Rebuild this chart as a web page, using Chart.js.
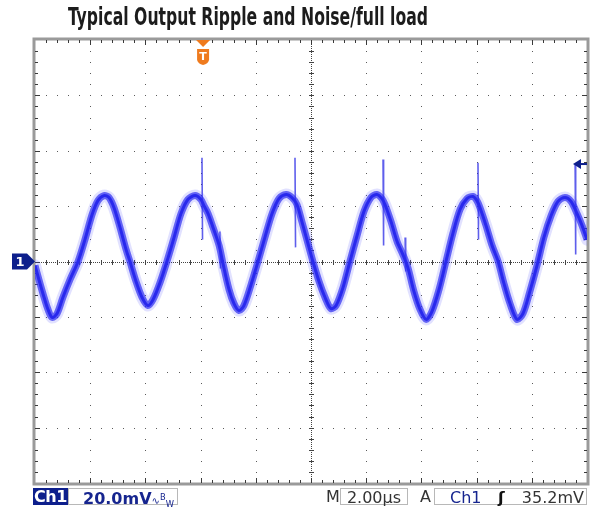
<!DOCTYPE html>
<html><head><meta charset="utf-8">
<script src="https://cdn.jsdelivr.net/npm/chart.js@4.4.0/dist/chart.umd.min.js"></script>
<style>
html,body{margin:0;padding:0;background:#fff;width:597px;height:510px;overflow:hidden;position:relative;font-family:"DejaVu Sans",sans-serif}
#c{position:absolute;left:0;top:0}
#title{position:absolute;left:68px;top:3px;font-family:"Liberation Sans Narrow","DejaVu Sans Condensed",sans-serif;font-weight:bold;font-size:25px;color:#1c1c1c;white-space:nowrap;transform-origin:0 0;line-height:28px}
.bx{position:absolute;top:488px;height:17px;line-height:17px;font-size:16px;white-space:nowrap;box-sizing:border-box}
#ch1{left:33px;width:35px;background:#0d1f8c;color:#fff;font-weight:bold;text-align:center;font-size:16px;letter-spacing:-0.5px}
#vdiv{left:68px;width:110px;border:1px solid #b8b8b8;color:#16258f;padding-left:14px;font-weight:bold}
#vdiv small{font-size:10px;color:#16258f;font-weight:normal}
#mlab{left:326px;color:#333}
#tdiv{left:340px;width:68px;border:1px solid #b8b8b8;color:#333;text-align:center}
#alab{left:420px;color:#333}
#trig{left:434px;width:153px;border:1px solid #b8b8b8;color:#333}
#trig .c{position:absolute;left:15px;color:#16258f}
#trig .e{position:absolute;left:63px;color:#111;font-weight:bold}
#trig .v{position:absolute;right:2px}
</style></head><body>
<canvas id="c" width="597" height="510"></canvas>
<div id="title">Typical Output Ripple and Noise/full load</div>
<div class="bx" id="ch1">Ch1</div>
<div class="bx" id="vdiv">20.0mV<small>∿<sup>B</sup><sub>W</sub></small></div>
<div class="bx" id="mlab">M</div>
<div class="bx" id="tdiv">2.00µs</div>
<div class="bx" id="alab">A</div>
<div class="bx" id="trig"><span class="c">Ch1</span><span class="e">ʃ</span><span class="v">35.2mV</span></div>
<script>
// ---- data ----
const timeUs = [0.00,0.14,0.33,0.47,0.62,0.80,1.01,1.27,1.56,1.81,2.07,2.28,2.50,2.68,2.86,3.08,3.30,3.44,3.66,3.88,4.09,4.28,4.53,4.78,5.04,5.29,5.54,5.80,6.01,6.12,6.27,6.45,6.67,6.81,7.03,7.21,7.39,7.57,7.83,8.08,8.33,8.59,8.84,9.10,9.31,9.49,9.67,9.89,10.07,10.29,10.51,10.72,10.91,11.16,11.41,11.67,11.92,12.17,12.39,12.57,12.68,12.90,13.12,13.33,13.51,13.73,13.95,14.17,14.38,14.64,14.89,15.14,15.40,15.65,15.87,16.01,16.12,16.34,16.56,16.78,16.99,17.21,17.46,17.68,17.93,18.19,18.44,18.70,18.95,19.20,19.42,19.64,19.82,20.00];
const rippleMv = [-1.4,-6.5,-13.0,-17.3,-20.2,-18.8,-13.0,-6.5,0.0,7.9,17.0,22.0,23.8,23.1,19.5,12.3,4.3,0.0,-7.2,-13.0,-15.9,-13.7,-7.6,0.0,8.7,17.3,22.4,23.8,22.4,20.2,17.3,12.3,5.8,-0.7,-10.1,-15.2,-17.7,-15.9,-8.3,0.0,8.7,17.3,22.7,24.2,23.1,20.6,14.4,6.5,0.0,-7.2,-13.0,-17.0,-15.9,-9.4,0.0,9.4,18.1,23.1,24.2,22.7,20.6,14.4,7.2,2.5,-2.2,-10.8,-17.3,-20.9,-18.1,-10.1,0.0,10.1,18.8,22.7,23.5,22.0,19.5,13.0,5.8,0.0,-7.9,-15.2,-20.9,-18.8,-10.8,-1.4,8.7,16.6,21.7,23.1,21.7,17.3,13.0,7.9];
// switching spikes: time, top and bottom of each spike
const spikeTimeUs = [6.05, 6.70, 9.42, 12.61, 13.41, 16.05, 19.57];
const spikeTopMv = [37.5, 10.8, 37.5, 36.8, 8.7, 35.7, 35.0];
const spikeBottomMv = [7.9, -2.5, 5.1, 5.8, -3.6, 7.9, 2.5];
const timeRangeUs = [0, 20];      // 10 div x 2.00 µs
const voltRangeMv = [-80, 80];    // 8 div x 20.0 mV
const timePerDivUs = 2;
const voltPerDivMv = 20;
const triggerTimeUs = 6.09;
const triggerLevelMv = 35.2;

const points = timeUs.map((t, i) => ({x: t, y: rippleMv[i]}));
const spikePoints = [];
spikeTimeUs.forEach((t, i) => {
  spikePoints.push({x: t, y: spikeTopMv[i]}, {x: t + 0.02, y: spikeBottomMv[i]}, {x: t + 0.03, y: null});
});

const scopePlugin = {
  id: 'scope',
  beforeDatasetsDraw(chart) {
    const ctx = chart.ctx, xs = chart.scales.x, ys = chart.scales.y, a = chart.chartArea;
    ctx.save();
    const nx = (timeRangeUs[1] - timeRangeUs[0]) / timePerDivUs;
    const ny = (voltRangeMv[1] - voltRangeMv[0]) / voltPerDivMv;
    ctx.fillStyle = '#5a5a5a';
    for (let i = 1; i < nx; i++) {
      if (i * 2 === nx) continue;
      const px = Math.round(xs.getPixelForValue(timeRangeUs[0] + i * timePerDivUs));
      for (let j = 1; j < ny * 5; j++) {
        const py = Math.round(ys.getPixelForValue(voltRangeMv[0] + j * voltPerDivMv / 5));
        ctx.fillRect(px, py, 1, 1);
      }
    }
    for (let j = 1; j < ny; j++) {
      if (j * 2 === ny) continue;
      const py = Math.round(ys.getPixelForValue(voltRangeMv[0] + j * voltPerDivMv));
      for (let i = 1; i < nx * 5; i++) {
        const px = Math.round(xs.getPixelForValue(timeRangeUs[0] + i * timePerDivUs / 5));
        ctx.fillRect(px, py, 1, 1);
      }
    }
    const cx = Math.round(xs.getPixelForValue((timeRangeUs[0] + timeRangeUs[1]) / 2));
    const cy = Math.round(ys.getPixelForValue(0));
    ctx.fillStyle = '#444';
    for (let px = a.left; px < a.right; px += 2) ctx.fillRect(px, cy, 1, 1);
    for (let py = a.top; py < a.bottom; py += 2) ctx.fillRect(cx, py, 1, 1);
    for (let i = 1; i < nx * 5; i++) {
      const px = Math.round(xs.getPixelForValue(timeRangeUs[0] + i * timePerDivUs / 5));
      ctx.fillRect(px, cy - 2, 1, 5);
    }
    for (let j = 1; j < ny * 5; j++) {
      const py = Math.round(ys.getPixelForValue(voltRangeMv[0] + j * voltPerDivMv / 5));
      ctx.fillRect(cx - 2, py, 5, 1);
    }
    ctx.strokeStyle = '#9a9a9a';
    ctx.lineWidth = 3;
    ctx.strokeRect(a.left - 1, a.top - 1, a.right - a.left + 2, a.bottom - a.top + 2);
    ctx.fillStyle = '#3a3a3a';
    for (let i = 1; i < nx * 5; i++) {
      const px = Math.round(xs.getPixelForValue(timeRangeUs[0] + i * timePerDivUs / 5));
      const L = (i % 5 === 0) ? 5 : 3;
      ctx.fillRect(px, a.top, 1, L);
      ctx.fillRect(px, a.bottom - L, 1, L);
    }
    for (let j = 1; j < ny * 5; j++) {
      const py = Math.round(ys.getPixelForValue(voltRangeMv[0] + j * voltPerDivMv / 5));
      const L = (j % 5 === 0) ? 5 : 3;
      ctx.fillRect(a.left, py, L, 1);
      ctx.fillRect(a.right - L, py, L, 1);
    }
    ctx.restore();
  },
  afterDatasetsDraw(chart) {
    const ctx = chart.ctx, xs = chart.scales.x, ys = chart.scales.y, a = chart.chartArea;
    ctx.save();
    const gy = ys.getPixelForValue(0);
    ctx.fillStyle = '#0d1f8c';
    ctx.beginPath();
    ctx.moveTo(12, gy - 8); ctx.lineTo(27, gy - 8); ctx.lineTo(35, gy); ctx.lineTo(27, gy + 8); ctx.lineTo(12, gy + 8);
    ctx.closePath(); ctx.fill();
    ctx.fillStyle = '#fff';
    ctx.font = 'bold 13px "DejaVu Sans"';
    ctx.textAlign = 'center'; ctx.textBaseline = 'middle';
    ctx.fillText('1', 20, gy + 1);
    const tx = xs.getPixelForValue(triggerTimeUs);
    ctx.fillStyle = '#ef7b1e';
    ctx.beginPath();
    ctx.moveTo(tx - 7, a.top); ctx.lineTo(tx + 7, a.top); ctx.lineTo(tx, a.top + 7);
    ctx.closePath(); ctx.fill();
    ctx.beginPath();
    ctx.moveTo(tx - 6, a.top + 9); ctx.lineTo(tx + 6, a.top + 9); ctx.lineTo(tx + 6, a.top + 20);
    ctx.quadraticCurveTo(tx + 5, a.top + 24, tx, a.top + 25);
    ctx.quadraticCurveTo(tx - 5, a.top + 24, tx - 6, a.top + 20);
    ctx.closePath(); ctx.fill();
    ctx.fillStyle = '#fff';
    ctx.font = 'bold 11px "DejaVu Sans"';
    ctx.fillText('T', tx, a.top + 17);
    const ly = ys.getPixelForValue(triggerLevelMv);
    ctx.fillStyle = '#0d1f8c';
    ctx.beginPath();
    ctx.moveTo(a.right - 14, ly); ctx.lineTo(a.right - 6, ly - 5); ctx.lineTo(a.right - 6, ly + 5);
    ctx.closePath(); ctx.fill();
    ctx.fillRect(a.right - 7, ly - 1, 7, 2);
    ctx.restore();
  }
};

new Chart(document.getElementById('c'), {
  type: 'scatter',
  data: {
    datasets: [
      {data: points, showLine: true, borderColor: 'rgba(90,90,255,0.18)', borderWidth: 12, pointRadius: 0, tension: 0.3, borderJoinStyle: 'round', borderCapStyle: 'round'},
      {data: points, showLine: true, borderColor: 'rgba(35,35,238,0.7)', borderWidth: 7, pointRadius: 0, tension: 0.3, borderJoinStyle: 'round'},
      {data: points, showLine: true, borderColor: '#1212e0', borderWidth: 3, pointRadius: 0, tension: 0.3, borderJoinStyle: 'round'},
      {data: spikePoints, showLine: true, spanGaps: false, borderColor: 'rgba(40,40,230,0.75)', borderWidth: 1.6, pointRadius: 0, tension: 0}
    ]
  },
  options: {
    responsive: false,
    animation: false,
    devicePixelRatio: 1,
    layout: {padding: {left: 35, top: 40, right: 10, bottom: 27}},
    plugins: {legend: {display: false}, tooltip: {enabled: false}, title: {display: false}},
    scales: {
      x: {type: 'linear', display: false, min: timeRangeUs[0], max: timeRangeUs[1]},
      y: {type: 'linear', display: false, min: voltRangeMv[0], max: voltRangeMv[1]}
    }
  },
  plugins: [scopePlugin]
});

const tEl = document.getElementById('title');
const w = tEl.getBoundingClientRect().width;
tEl.style.transform = 'scaleX(' + (360 / w) + ')';
</script>
</body></html>
